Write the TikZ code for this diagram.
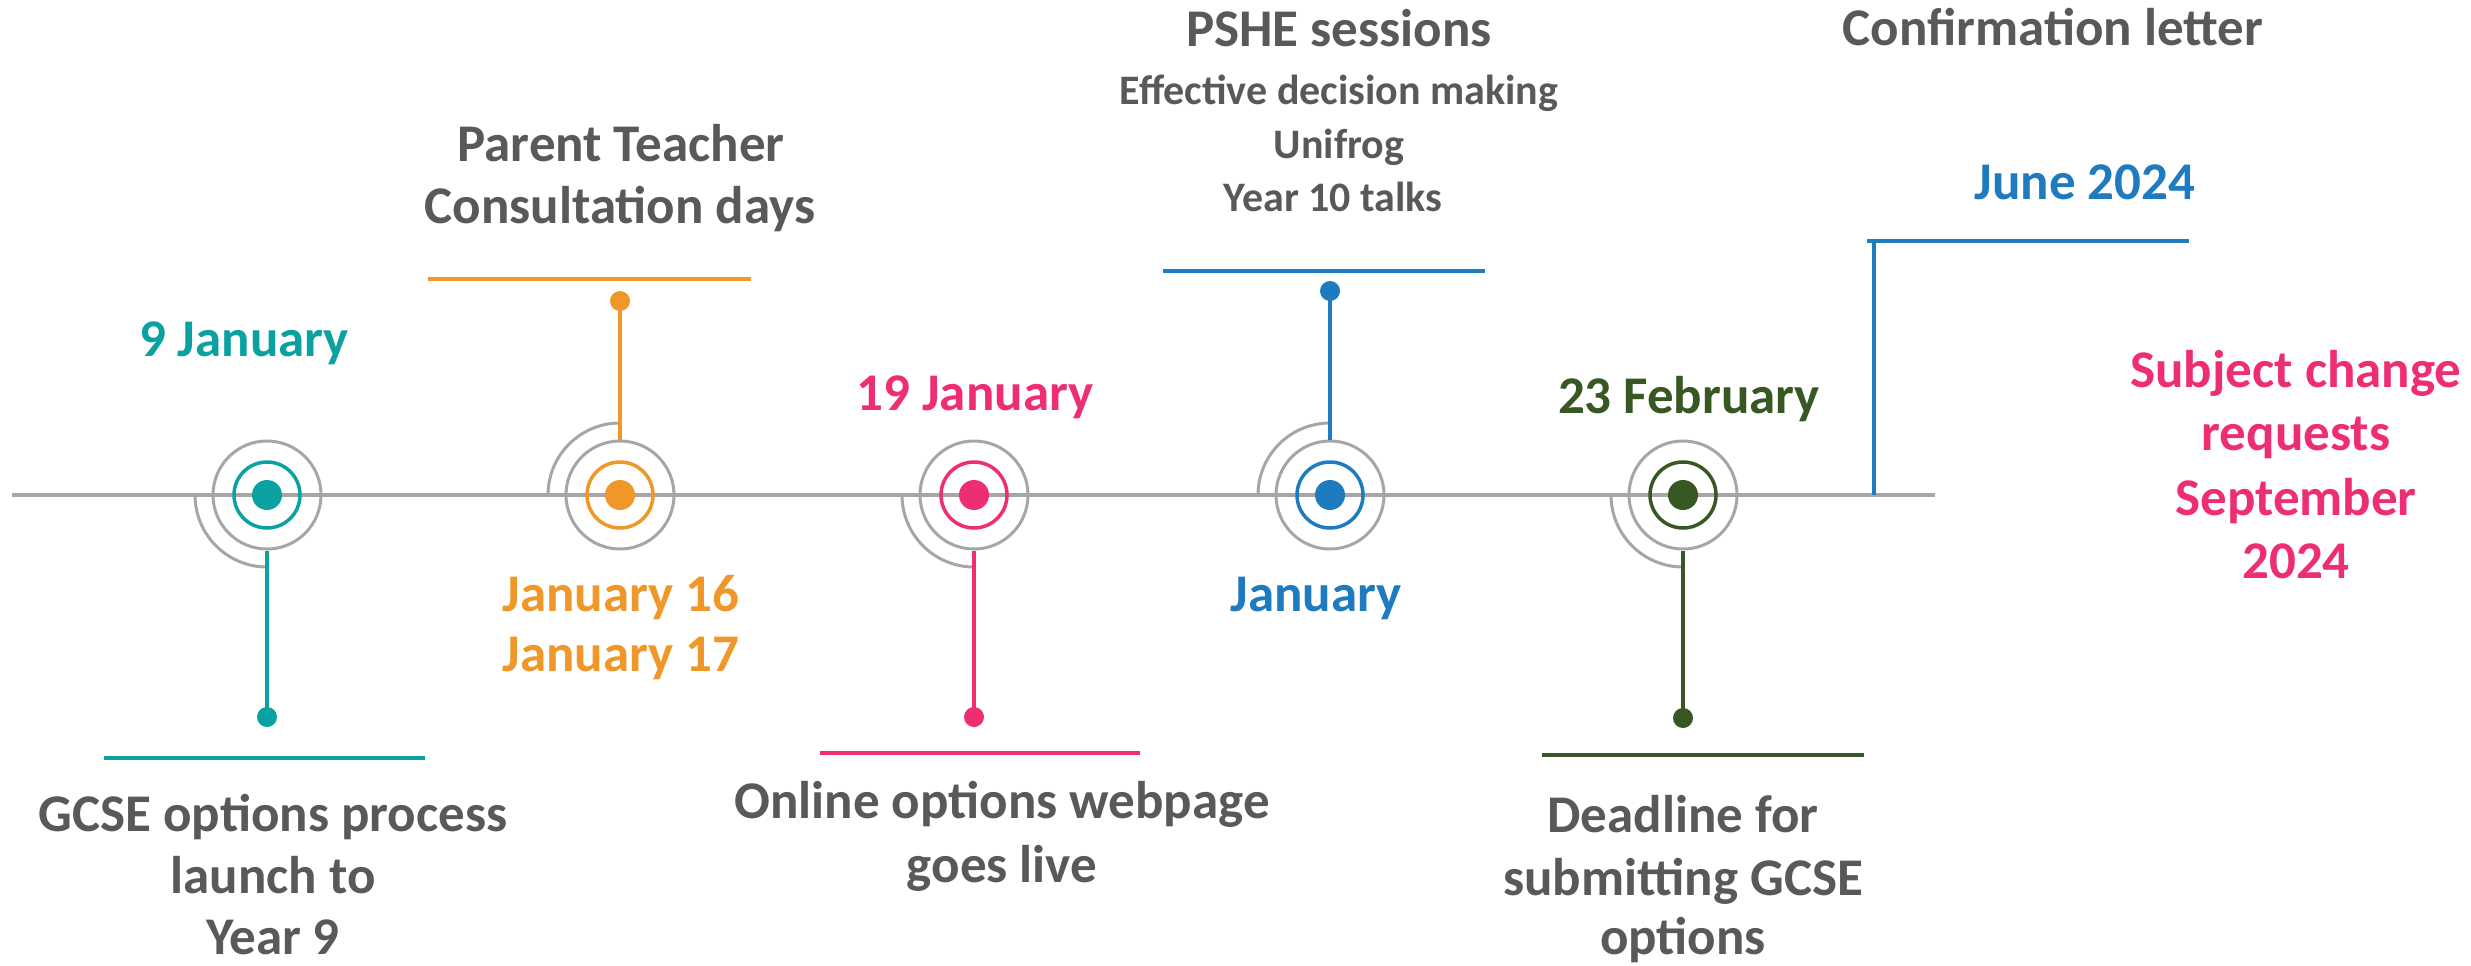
\documentclass[tikz,border=0pt]{standalone}
\usepackage{fontspec}
\setmainfont{Carlito}
\usetikzlibrary{calc}
\definecolor{cteal}{RGB}{12,161,161}
\definecolor{corange}{RGB}{240,151,41}
\definecolor{cpink}{RGB}{238,46,116}
\definecolor{cblue}{RGB}{31,123,191}
\definecolor{cgreen}{RGB}{55,87,35}
\definecolor{lgray}{RGB}{166,166,166}
\definecolor{tgray}{RGB}{89,89,89}
\begin{document}
\begin{tikzpicture}[x=1pt,y=1pt,
  lbl/.style={anchor=base, inner sep=0pt, text=tgray, font=\fontsize{53}{63}\selectfont\bfseries},
  sublbl/.style={anchor=base, inner sep=0pt, text=tgray, font=\fontsize{42}{50}\selectfont\bfseries},
  datelbl/.style={anchor=base, inner sep=0pt, font=\fontsize{53}{63}\selectfont\bfseries},
  axis/.style={draw=lgray, line width=3.5},
  ring/.style={circle, draw=lgray, line width=3, minimum size=108, inner sep=0pt},
  cring/.style={circle, line width=3.5, minimum size=66, inner sep=0pt},
  cdot/.style={circle, minimum size=30, inner sep=0pt},
  sdot/.style={circle, minimum size=20, inner sep=0pt},
  stem/.style={line width=4},
  bar/.style={line width=4.5},
  garc/.style={draw=lgray, line width=3}]
\useasboundingbox (0,0) rectangle (2471,-966);

% timeline
\coordinate (tl) at (12,-495);
\coordinate (tr) at (1935,-495);
\draw[axis] (tl) -- (tr);

% milestones
\foreach \n/\cx/\col/\dir/\dy/\bl/\br/\by [evaluate=\dir as \ang using int(-90*\dir)] in
  {a/267/cteal/1/717/104/425/758,
   b/620/corange/-1/301/428/751/279,
   c/974/cpink/1/717/820/1140/753,
   d/1330/cblue/-1/291/1163/1485/271,
   e/1683/cgreen/1/718/1542/1864/755}{
  \node[cdot, fill=\col] (\n c) at (\cx,-495) {};
  \node[cring, draw=\col] (\n cr) at (\n c) {};
  \node[ring] (\n r) at (\n c) {};
  \draw[garc] ($(\n c)+(-72,0)$) arc[start angle=180, end angle={180+90*\dir}, radius=72];
  \node[sdot, fill=\col] (\n d) at (\cx,-\dy) {};
  \draw[stem, draw=\col] (\n r.\ang) -- (\n d.center);
  \coordinate (\n bl) at (\bl,-\by);
  \coordinate (\n br) at (\br,-\by);
  \draw[bar, draw=\col] (\n bl) -- (\n br);
}

% June bracket
\coordinate (jb) at (1874,-495);
\coordinate (jt) at (1874,-241);
\coordinate (jl) at (1867,-241);
\coordinate (jr) at (2189,-241);
\draw[stem, draw=cblue] (jb) -- (jt);
\draw[bar, draw=cblue] (jl) -- (jr);

% texts
\node[lbl] (t1a) at (273,-831) {GCSE options process};
\node[lbl] (t1b) at (273,-893) {launch to};
\node[lbl] (t1c) at (273,-954) {Year 9};

\node[lbl] (t2a) at (621,-161) {Parent Teacher};
\node[lbl] (t2b) at (620,-223) {Consultation days};

\node[lbl] (t3a) at (1002,-818) {Online options webpage};
\node[lbl] (t3b) at (1002,-882) {goes live};

\node[lbl] (t4a) at (1339,-47) {PSHE sessions};
\node[sublbl] (t4b) at (1339,-104) {Effective decision making};
\node[sublbl] (t4c) at (1339,-158) {Unifrog};
\node[sublbl] (t4d) at (1333,-211) {Year 10 talks};

\node[lbl] (t5a) at (1683,-832) {Deadline for};
\node[lbl] (t5b) at (1683,-895) {submitting GCSE};
\node[lbl] (t5c) at (1683,-954) {options};

\node[lbl] (t6) at (2053,-46) {Confirmation letter};

\node[datelbl, text=cteal] (d1) at (244,-356) {9 January};
\node[datelbl, text=corange] (d2a) at (621,-611) {January 16};
\node[datelbl, text=corange] (d2b) at (621,-671) {January 17};
\node[datelbl, text=cpink] (d3) at (975,-410) {19 January};
\node[datelbl, text=cblue] (d4) at (1316,-611) {January};
\node[datelbl, text=cgreen] (d5) at (1689,-413) {23 February};
\node[datelbl, text=cblue] (d6) at (2085,-199) {June 2024};

\node[datelbl, text=cpink] (s1) at (2296,-387) {Subject change};
\node[datelbl, text=cpink] (s2) at (2296,-450) {requests};
\node[datelbl, text=cpink] (s3) at (2296,-515) {September};
\node[datelbl, text=cpink] (s4) at (2296,-578) {2024};
\end{tikzpicture}
\end{document}
